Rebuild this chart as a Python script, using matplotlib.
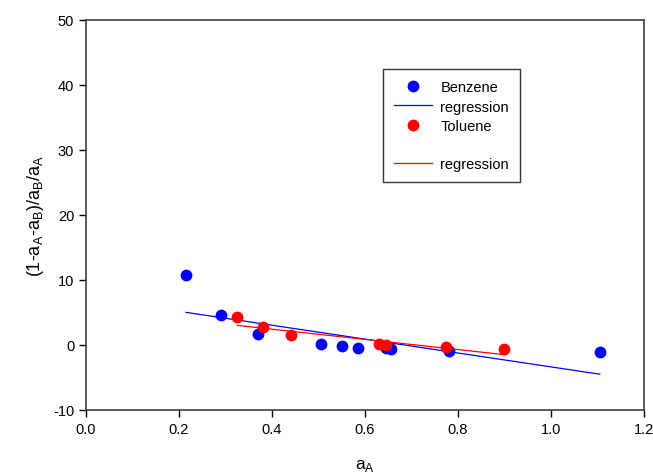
import numpy as np
import matplotlib.pyplot as plt
from matplotlib.lines import Line2D

plt.rcParams['font.family'] = ['Liberation Sans', 'DejaVu Sans']
plt.rcParams['axes.unicode_minus'] = False
plt.rcParams['mathtext.fontset'] = 'custom'
plt.rcParams['mathtext.rm'] = 'Liberation Sans'

# benzene data
benz_x = [0.215, 0.29, 0.37, 0.505, 0.55, 0.585, 0.645, 0.655, 0.78, 1.105]
benz_y = [10.8, 4.6, 1.7, 0.1, -0.2, -0.4, -0.5, -0.7, -0.9, -1.1]
# benzene regression end points
benz_reg_x = [0.215, 1.105]
benz_reg_y = [5.0, -4.5]

# toluene data
tol_x = [0.325, 0.38, 0.44, 0.63, 0.645, 0.775, 0.9]
tol_y = [4.3, 2.7, 1.5, 0.1, -0.05, -0.3, -0.7]
# toluene regression end points
tol_reg_x = [0.325, 0.9]
tol_reg_y = [3.0, -1.5]

fig = plt.figure(figsize=(6.53, 4.77), dpi=100)
ax = fig.add_axes([0.1317, 0.1384, 0.8545, 0.8186])

ax.plot(benz_x, benz_y, 'o', color='#0000ff', markersize=8.5, markeredgewidth=0)
ax.plot(benz_reg_x, benz_reg_y, '-', color='#0000ff', linewidth=0.9)
ax.plot(tol_x, tol_y, 'o', color='#ff0000', markersize=8.5, markeredgewidth=0)
ax.plot(tol_reg_x, tol_reg_y, '-', color='#ff0000', linewidth=0.9)

ax.set_xlim(0, 1.2)
ax.set_ylim(-10, 50)
ax.set_xticks(np.arange(0, 1.21, 0.2))
ax.set_xticklabels(['0.0', '0.2', '0.4', '0.6', '0.8', '1.0', '1.2'])
ax.set_yticks(np.arange(-10, 51, 10))
ax.tick_params(direction='out', length=5, width=1, labelsize=10.5, colors='black')
for s in ax.spines.values():
    s.set_linewidth(1.2)
    s.set_color('#404040')

ax.set_xlabel('a$_\\mathrm{A}$', fontsize=12.5, labelpad=15)
ax.set_ylabel('(1-a$_\\mathrm{A}$-a$_\\mathrm{B}$)/a$_\\mathrm{B}$/a$_\\mathrm{A}$',
              fontsize=13, labelpad=5)

handles = [
    Line2D([], [], marker='o', color='#0000ff', linestyle='none', markersize=8.5, markeredgewidth=0),
    Line2D([], [], color='#0000ff', linewidth=0.9),
    Line2D([], [], marker='o', color='#ff0000', linestyle='none', markersize=8.5, markeredgewidth=0),
    Line2D([], [], linestyle='none'),
    Line2D([], [], color='#ff0000', linewidth=0.9),
]
labels = ['Benzene', 'regression', 'Toluene', ' ', 'regression']
leg = ax.legend(handles, labels, loc='upper left', bbox_to_anchor=(0.532, 0.872),
                borderaxespad=0, fontsize=10.5, frameon=True, fancybox=False,
                handlelength=2.6, labelspacing=0.35, borderpad=0.75, handletextpad=0.6)
leg.get_frame().set_edgecolor('black')
leg.get_frame().set_linewidth(1.0)

fig.savefig('out.png', dpi=100)
